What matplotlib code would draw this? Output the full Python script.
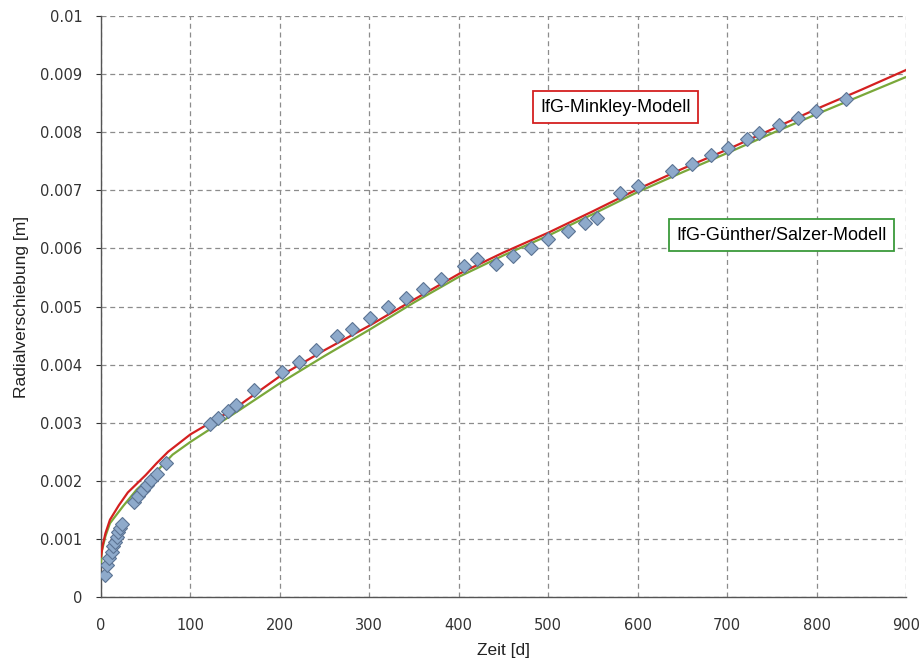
import matplotlib
matplotlib.use("Agg")
import matplotlib.pyplot as plt

plt.rcParams['font.family'] = ['Liberation Sans', 'DejaVu Sans']

# measured data (days, radial displacement in m)
meas_t = [4.5, 6.4, 9.3, 12, 13.8, 15.7, 17.6, 19.4, 21.2, 23.8,
          37.3, 41.7, 46.6, 51, 55.6, 62.3, 72.7,
          121.9, 131, 141.6, 151, 171,
          202, 221.4, 240.4, 263.5, 280.3, 300.8, 321, 340.6, 359.6, 379.8,
          406.2, 420, 441.2, 461, 480.8, 500,
          522.5, 541, 554, 580, 600.8, 638, 660.4, 681.6, 700.6, 722.6,
          736, 758.4, 779, 799.4, 833]
meas_u = [0.00038, 0.00055, 0.00067, 0.00078, 0.00087, 0.00095, 0.00104, 0.00112, 0.00118, 0.00125,
          0.00164, 0.00174, 0.00184, 0.00193, 0.00201, 0.00212, 0.00231,
          0.00298, 0.00308, 0.00321, 0.00330, 0.00356,
          0.00388, 0.00405, 0.00425, 0.00449, 0.00462, 0.00481, 0.00499, 0.00514, 0.00530, 0.00547,
          0.00569, 0.00581, 0.00573, 0.00587, 0.00600, 0.00616,
          0.00630, 0.00644, 0.00652, 0.00695, 0.00707, 0.00733, 0.00746, 0.00761, 0.00773, 0.00788,
          0.00798, 0.00812, 0.00825, 0.00837, 0.00857]

# IfG-Minkley model
mink_t = [0, 2, 5, 10, 20, 30, 50, 62, 75, 90, 100, 150, 200, 250, 300, 350, 400, 450, 500,
          550, 600, 650, 700, 750, 800, 850, 900]
mink_u = [0.00070, 0.00090, 0.00110, 0.00133, 0.00158, 0.00180, 0.00210, 0.00230, 0.00250, 0.00268,
          0.00280, 0.00325, 0.00380, 0.00425, 0.00467, 0.00512, 0.00556, 0.00593, 0.00627,
          0.00664, 0.00702, 0.00737, 0.00770, 0.00805, 0.00840, 0.00873, 0.00907]

# IfG-Guenther/Salzer model
gs_t = [0, 1, 2.6, 5, 10, 25, 40, 62, 80, 100, 155, 200, 250, 300, 350, 400, 450, 500,
        550, 600, 650, 700, 750, 800, 850, 900]
gs_u = [0.00060, 0.00080, 0.00090, 0.00105, 0.00127, 0.00157, 0.00185, 0.00216, 0.00245, 0.00267,
        0.00322, 0.00368, 0.00415, 0.00460, 0.00507, 0.00551, 0.00588, 0.00622,
        0.00659, 0.00697, 0.00731, 0.00764, 0.00798, 0.00831, 0.00863, 0.00895]

x_ticks = [0, 100, 200, 300, 400, 500, 600, 700, 800, 900]
y_ticks = [0, 0.001, 0.002, 0.003, 0.004, 0.005, 0.006, 0.007, 0.008, 0.009, 0.01]
y_labels = ['0', '0.001', '0.002', '0.003', '0.004', '0.005', '0.006', '0.007', '0.008', '0.009', '0.01']

fig = plt.figure(figsize=(9.2, 6.63), dpi=100)
ax = fig.add_axes([0.1098, 0.0995, 0.875, 0.8764])

ax.plot(gs_t, gs_u, color='#7aa83a', lw=1.6, zorder=3)
ax.plot(mink_t, mink_u, color='#d42020', lw=1.6, zorder=4)
ax.plot(meas_t, meas_u, linestyle='none', marker='D', markersize=7.3,
        markerfacecolor='#8eaacb', markeredgecolor='#5b7393', markeredgewidth=0.8, zorder=5)

ax.set_xlim(0, 900)
ax.set_ylim(0, 0.01)
ax.set_xticks(x_ticks)
ax.set_xticklabels([str(v) for v in x_ticks], family='DejaVu Sans')
ax.set_yticks(y_ticks)
ax.set_yticklabels(y_labels, family='DejaVu Sans')
ax.grid(True, color='#8c8c8c', linestyle=(0, (4, 3)), linewidth=0.9)
ax.set_axisbelow(True)
for s in ['top', 'right']:
    ax.spines[s].set_visible(False)
for s in ['left', 'bottom']:
    ax.spines[s].set_color('#555555')
    ax.spines[s].set_linewidth(1.0)
ax.tick_params(axis='both', labelsize=10.5, colors='#333333', length=3.5, width=0.8)
ax.tick_params(axis='y', pad=10)
ax.tick_params(axis='x', length=0, pad=15)
ax.set_xlabel('Zeit [d]', fontsize=12.5, color='#222222', va='top')
ax.set_ylabel('Radialverschiebung [m]', fontsize=12.5, color='#222222')
ax.xaxis.set_label_coords(0.5, -0.079)
ax.yaxis.set_label_coords(-0.09, 0.5)

ax.text(575, 0.00843, 'IfG-Minkley-Modell', fontsize=13, ha='center', va='center', zorder=6,
        bbox=dict(boxstyle='square,pad=0.4', facecolor='white', edgecolor='#d42020', linewidth=1.3))
ax.text(761, 0.00623, 'IfG-Günther/Salzer-Modell', fontsize=13, ha='center', va='center', zorder=6,
        bbox=dict(boxstyle='square,pad=0.4', facecolor='white', edgecolor='#3a9a3a', linewidth=1.3))

fig.savefig('out.png', dpi=100)
